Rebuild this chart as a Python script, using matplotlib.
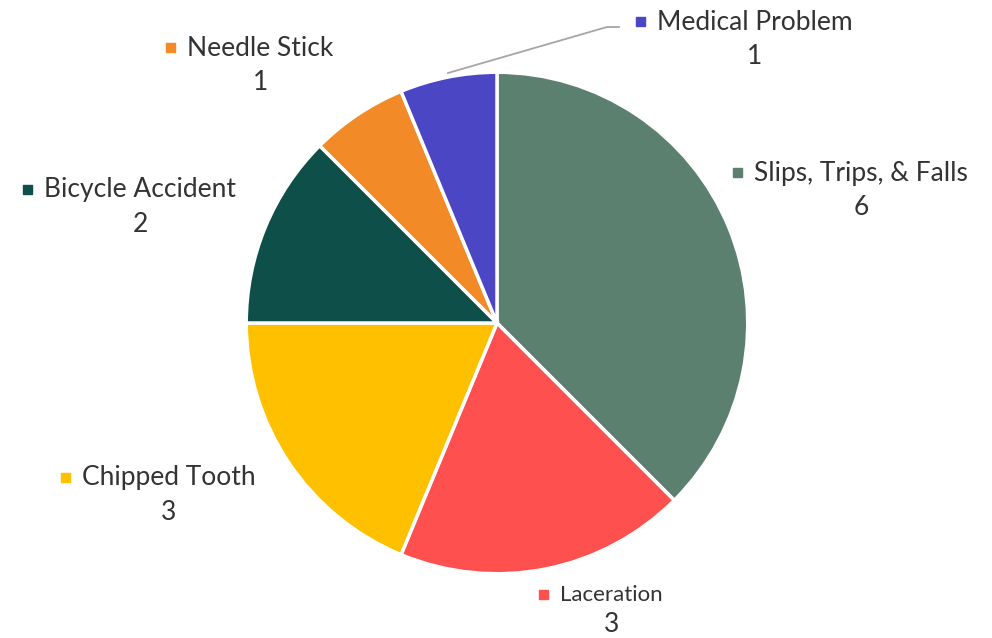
import matplotlib
matplotlib.use("Agg")
import matplotlib.pyplot as plt

categories = ["Slips, Trips, & Falls", "Laceration", "Chipped Tooth",
              "Bicycle Accident", "Needle Stick", "Medical Problem"]
counts = [6, 3, 3, 2, 1, 1]
colors = ["#5B8070", "#FF5050", "#FFC000", "#0E4F4A", "#F28A28", "#4A46C4"]

# label anchor (square marker left edge x, text center y, number offset, font size) in pixels from top-left
label_pos = {
    "Slips, Trips, & Falls": (733, 173, 35, 19),
    "Laceration": (539, 595, 30, 16),
    "Chipped Tooth": (61, 478, 35, 19),
    "Bicycle Accident": (23, 190, 35, 19),
    "Needle Stick": (166, 48, 35, 19),
    "Medical Problem": (636, 22, 35, 19),
}

W, H = 992, 638
fig = plt.figure(figsize=(W / 100, H / 100), dpi=100)
cx, cy, r = 497, 323, 252
ax = fig.add_axes([(cx - r) / W, (H - cy - r) / H, 2 * r / W, 2 * r / H])
ax.pie(counts, colors=colors, startangle=90, counterclock=False, radius=1,
       wedgeprops=dict(edgecolor="white", linewidth=2.5))
ax.set_xlim(-1.005, 1.005)
ax.set_ylim(-1.005, 1.005)
ax.set_aspect("equal")
ax.axis("off")

font = dict(family=["Lato", "DejaVu Sans"], fontweight="normal", color="#333333")

def px(x, y):
    return x / W, 1 - y / H

for name, val, col in zip(categories, counts, colors):
    x, y, off, fs = label_pos[name]
    t = fig.text(*px(x + 21, y), name, ha="left", va="center", fontsize=fs, **font)
    fig.canvas.draw()
    bb = t.get_window_extent()
    mid = (bb.x0 + bb.x1) / 2
    fig.text(mid / W, 1 - (y + off) / H, str(val), ha="center", va="center", fontsize=19, **font)
    fig.patches.append(plt.Rectangle(px(x, y + 4), 9 / W, 9 / H, transform=fig.transFigure,
                                     color=col, figure=fig))

# leader line for the small slice
fig.add_artist(plt.Line2D([448 / W, 607 / W, 619 / W],
                          [1 - 73 / H, 1 - 27 / H, 1 - 27 / H],
                          color="#A6A6A6", linewidth=1.3, transform=fig.transFigure))

fig.savefig("out.png", dpi=100, facecolor="white")
